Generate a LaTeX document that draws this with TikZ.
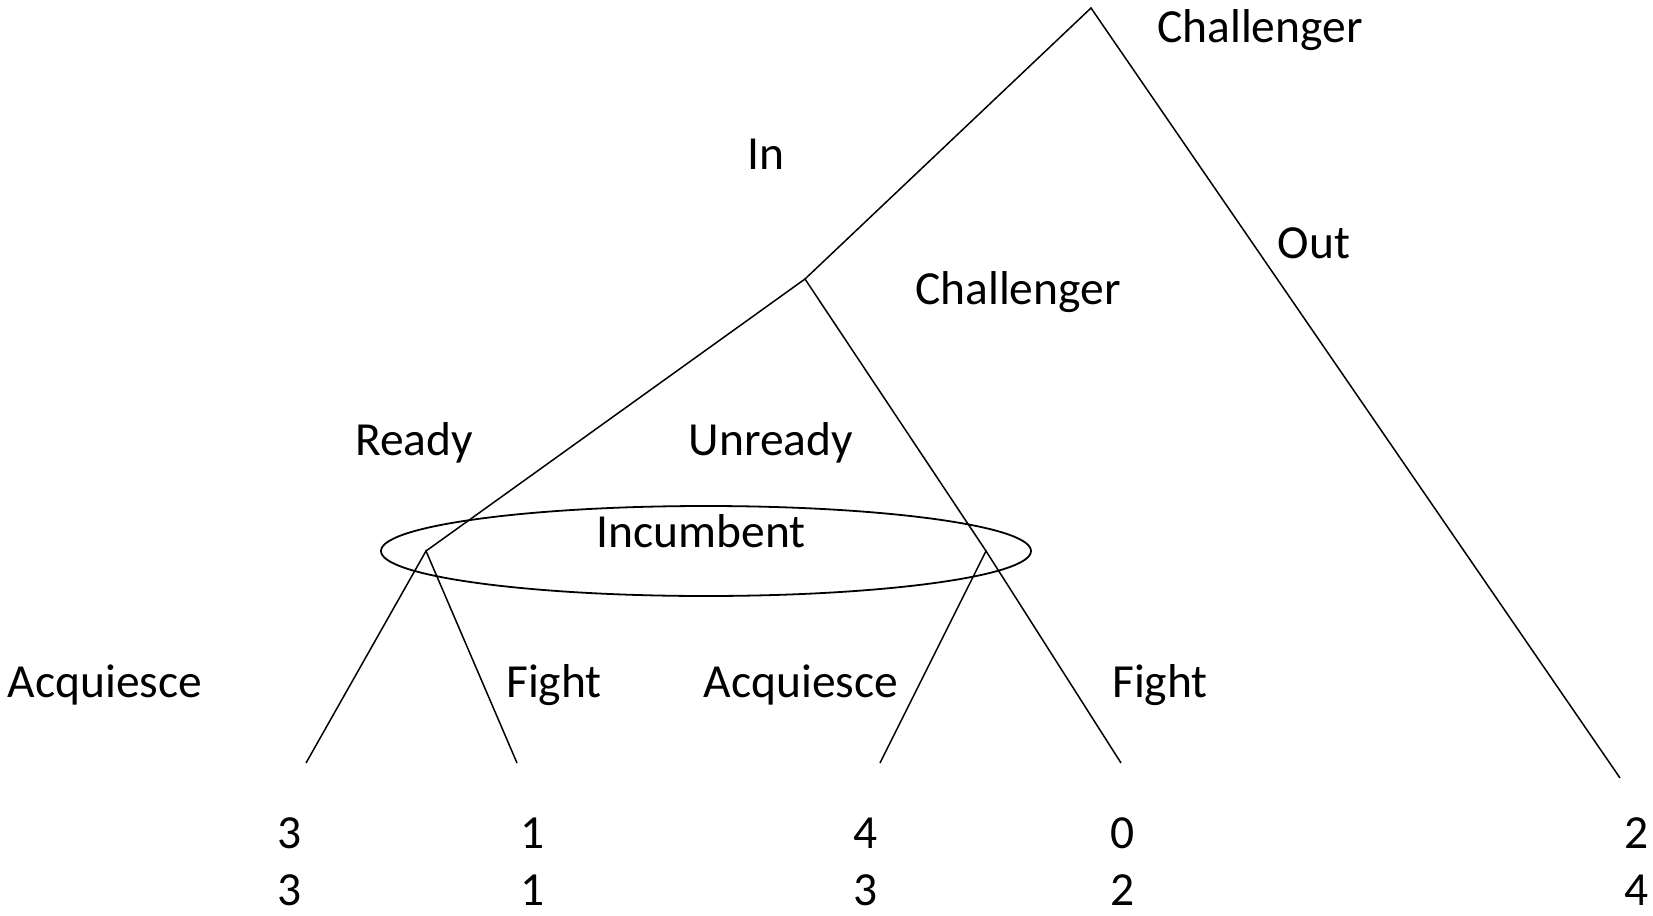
\documentclass[tikz,border=0pt]{standalone}
\usepackage{fontspec}
\setmainfont{Carlito}
\begin{document}
\begin{tikzpicture}[x=1pt,y=-1pt,
  edge/.style={line width=1.5pt},
  lbl/.style={anchor=base,inner sep=0pt,font=\fontsize{47.5}{57}\selectfont}]
\useasboundingbox (0,0) rectangle (1653,915);
% decision points
\coordinate (root) at (1091,8);
\coordinate (chal) at (805,279);
\coordinate (ready) at (426,551);
\coordinate (unready) at (986,551);
\coordinate (lout) at (1620,778);
\coordinate (l1) at (306,763);
\coordinate (l2) at (517,763);
\coordinate (l3) at (880,763);
\coordinate (l4) at (1121,763);
% edges
\draw[edge] (chal) -- (root) -- (lout);
\draw[edge] (ready) -- (chal) -- (unready);
\draw[edge] (l1) -- (ready) -- (l2);
\draw[edge] (l3) -- (unready) -- (l4);
% information set
\draw[line width=1.8pt] (706,551) ellipse [x radius=325, y radius=45];
% labels
\node[lbl] (t1) at (1260,43) {Challenger};
\node[lbl] (t2) at (766,169) {In};
\node[lbl] (t3) at (1314,258) {Out};
\node[lbl] (t4) at (1018,304) {Challenger};
\node[lbl] (t5) at (414,455) {Ready};
\node[lbl] (t6) at (771,455) {Unready};
\node[lbl] (t7) at (701,547) {Incumbent};
\node[lbl] (t8) at (105,697) {Acquiesce};
\node[lbl] (t9) at (554,697) {Fight};
\node[lbl] (t10) at (801,697) {Acquiesce};
\node[lbl] (t11) at (1160,697) {Fight};
% payoffs
\node[lbl] (p1a) at (290,848) {3};
\node[lbl] (p1b) at (290,905) {3};
\node[lbl] (p2a) at (533,848) {1};
\node[lbl] (p2b) at (533,905) {1};
\node[lbl] (p3a) at (866,848) {4};
\node[lbl] (p3b) at (866,905) {3};
\node[lbl] (p4a) at (1123,848) {0};
\node[lbl] (p4b) at (1123,905) {2};
\node[lbl] (p5a) at (1637,848) {2};
\node[lbl] (p5b) at (1637,905) {4};
\end{tikzpicture}
\end{document}
